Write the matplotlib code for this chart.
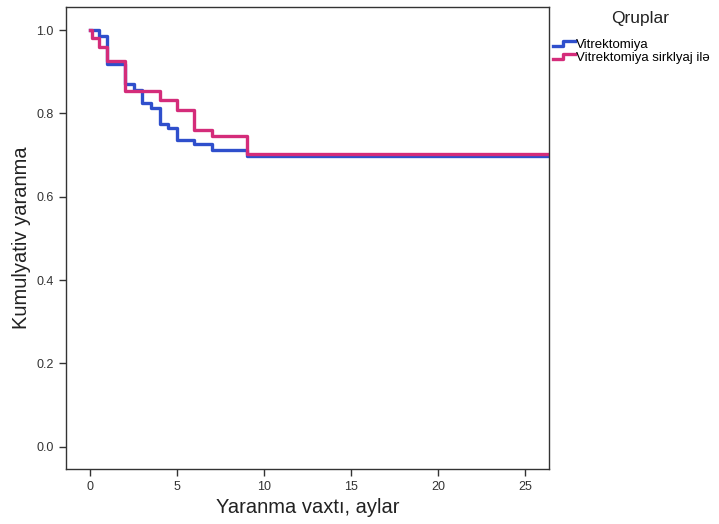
import matplotlib
matplotlib.use("Agg")
import matplotlib.pyplot as plt
from matplotlib.legend_handler import HandlerBase
from matplotlib.lines import Line2D

plt.rcParams["font.family"] = ["Liberation Sans", "DejaVu Sans"]

# Kaplan-Meier style step data
group_names = ["Vitrektomiya", "Vitrektomiya sirklyaj ilə"]
blue_t = [0, 0.5, 1.0, 2.0, 2.5, 3.0, 3.5, 4.0, 4.5, 5.0, 6.0, 7.0, 9.0, 26.4]
blue_v = [1.0, 0.986, 0.918, 0.870, 0.856, 0.824, 0.814, 0.774, 0.766, 0.736, 0.726, 0.712, 0.698, 0.698]
pink_t = [0, 0.1, 0.5, 1.0, 2.0, 4.0, 5.0, 6.0, 7.0, 9.0, 26.4]
pink_v = [1.0, 0.980, 0.960, 0.926, 0.854, 0.832, 0.808, 0.760, 0.746, 0.702, 0.702]
x_ticks = [0, 5, 10, 15, 20, 25]
y_ticks = [0.0, 0.2, 0.4, 0.6, 0.8, 1.0]

BLUE = "#2f4fcc"
PINK = "#d42c7a"


class StepHandler(HandlerBase):
    """Small step-shaped legend key, like SPSS survival plots."""
    def create_artists(self, legend, orig, xd, yd, w, h, fontsize, trans):
        xs = [xd, xd + w * 0.45, xd + w * 0.45, xd + w]
        ys = [yd + h * 0.2, yd + h * 0.2, yd + h * 0.75, yd + h * 0.75]
        ln = Line2D(xs, ys, color=orig.get_color(), lw=2.4, transform=trans)
        return [ln]


fig = plt.figure(figsize=(7.19, 5.24), dpi=100)
ax = fig.add_axes([0.0914, 0.105, 0.6726, 0.882])

l1, = ax.step(blue_t, blue_v, where="post", color=BLUE, lw=2.4)
l2, = ax.step(pink_t, pink_v, where="post", color=PINK, lw=2.4)

ax.set_xlim(-1.4, 26.4)
ax.set_ylim(-0.0535, 1.056)
ax.set_xticks(x_ticks)
ax.set_yticks(y_ticks)
ax.set_xticklabels([str(v) for v in x_ticks])
ax.set_yticklabels([f"{v:.1f}" for v in y_ticks])
ax.tick_params(direction="out", length=5, width=1, labelsize=9, labelcolor="#333333", color="#333333")
for s in ax.spines.values():
    s.set_color("#333333")
    s.set_linewidth(1)

ax.set_xlabel("Yaranma vaxtı, aylar", fontsize=14.5, color="#222222", labelpad=4)
ax.set_ylabel("Kumulyativ yaranma", fontsize=14.5, color="#222222", labelpad=4)

fig.text(640 / 719, 1 - 18 / 524, "Qruplar", fontsize=12.5, color="#222222",
         ha="center", va="center")
leg = fig.legend([l1, l2], group_names,
                 handler_map={Line2D: StepHandler()},
                 loc="upper left", bbox_to_anchor=(0.769, 1 - 39 / 524),
                 frameon=False, fontsize=9.5, borderpad=0,
                 handlelength=1.7, handletextpad=0.05, labelspacing=0.05,
                 borderaxespad=0)

fig.savefig("out.png", dpi=100)
